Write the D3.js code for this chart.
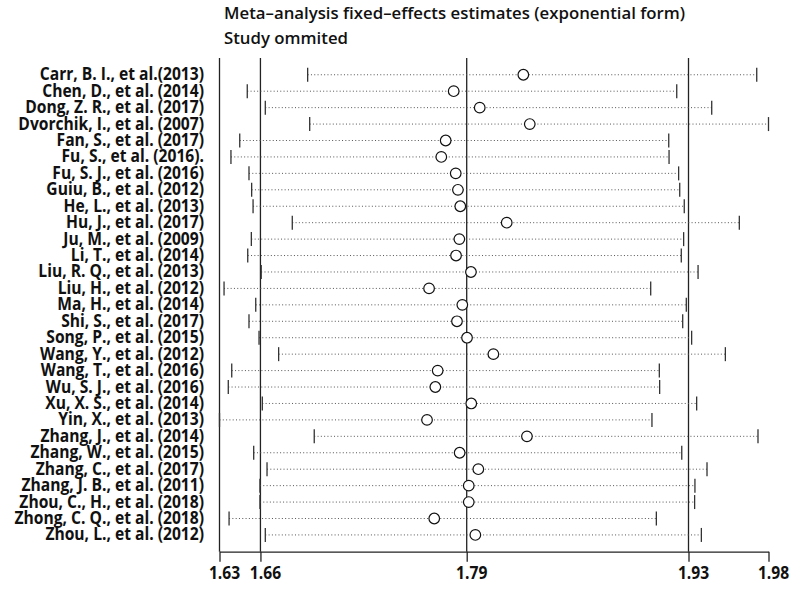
<!DOCTYPE html>
<html>
<head>
<meta charset="utf-8">
<script src="https://cdn.jsdelivr.net/npm/d3@7/dist/d3.min.js"></script>
<style>
  html, body { margin: 0; padding: 0; background: #fff; }
  svg { display: block; }
</style>
</head>
<body>
<div id="chart"></div>
<script>
/* ============================================================
   Influence plot — meta-analysis, one study omitted at a time
   ============================================================ */

const studies = [
  'Carr, B. I., et al.(2013)', 'Chen, D., et al. (2014)', 'Dong, Z. R., et al. (2017)',
  'Dvorchik, I., et al. (2007)', 'Fan, S., et al. (2017)', 'Fu, S., et al. (2016).',
  'Fu, S. J., et al. (2016)', 'Guiu, B., et al. (2012)', 'He, L., et al. (2013)',
  'Hu, J., et al. (2017)', 'Ju, M., et al. (2009)', 'Li, T., et al. (2014)',
  'Liu, R. Q., et al. (2013)', 'Liu, H., et al. (2012)', 'Ma, H., et al. (2014)',
  'Shi, S., et al. (2017)', 'Song, P., et al. (2015)', 'Wang, Y., et al. (2012)',
  'Wang, T., et al. (2016)', 'Wu, S. J., et al. (2016)', 'Xu, X. S., et al. (2014)',
  'Yin, X., et al. (2013)', 'Zhang, J., et al. (2014)', 'Zhang, W., et al. (2015)',
  'Zhang, C., et al. (2017)', 'Zhang, J. B., et al. (2011)', 'Zhou, C., H., et al. (2018)',
  'Zhong, C. Q., et al. (2018)', 'Zhou, L., et al. (2012)'
];

const estimate = [
  1.8237, 1.7793, 1.7959, 1.8278, 1.7742, 1.7714, 1.7806, 1.7820, 1.7835, 1.8131,
  1.7829, 1.7808, 1.7903, 1.7636, 1.7848, 1.7814, 1.7878, 1.8046, 1.7691, 1.7676,
  1.7905, 1.7623, 1.8260, 1.7831, 1.7950, 1.7889, 1.7889, 1.7669, 1.7931
];

const lower = [
  1.6862, 1.6477, 1.6592, 1.6875, 1.6429, 1.6373, 1.6488, 1.6505, 1.6514, 1.6764,
  1.6503, 1.6480, 1.6566, 1.6329, 1.6531, 1.6488, 1.6552, 1.6677, 1.6378, 1.6356,
  1.6573, 1.6300, 1.6904, 1.6518, 1.6603, 1.6558, 1.6558, 1.6361, 1.6592
];

const upper = [
  1.9725, 1.9215, 1.9438, 1.9800, 1.9164, 1.9166, 1.9227, 1.9234, 1.9263, 1.9614,
  1.9259, 1.9244, 1.9351, 1.9049, 1.9276, 1.9253, 1.9310, 1.9525, 1.9104, 1.9106,
  1.9342, 1.9057, 1.9733, 1.9247, 1.9408, 1.9331, 1.9329, 1.9085, 1.9372
];

// axis ticks: min lower, combined lower CI, combined estimate, combined upper CI, max upper
const tickVals = [1.63, 1.6561, 1.7876, 1.929, 1.98];
const refLines = [1.63, 1.6561, 1.7876, 1.929];

const titleLines = ['Meta\u2013analysis fixed\u2013effects estimates (exponential form)', 'Study ommited'];

const rows = studies.map((s, i) => ({ study: s, est: estimate[i], lo: lower[i], hi: upper[i] }));

const W = 800, H = 605;
const FONT = "'Open Sans', 'Noto Sans', sans-serif";
const SX = 0.845; // squeeze glyphs horizontally, the original face is narrow

const svg = d3.select('#chart').append('svg')
  .attr('width', W).attr('height', H)
  .attr('viewBox', `0 0 ${W} ${H}`);

const x = d3.scaleLinear().domain([1.63, 1.98]).range([219.5, 768.5]);
const plotTop = 58, plotBottom = 551.7;
const y = d3.scalePoint().domain(studies).range([plotTop, plotBottom]).padding(1.02);

// title
const tg = svg.append('g').attr('transform', 'translate(224,0)');
titleLines.forEach((t, i) => {
  tg.append('text')
    .attr('x', 0).attr('y', 19 + i * 24.5)
    .attr('fill', '#111')
    .style('font-family', FONT)
    .style('font-size', '16.8px')
    .style('font-weight', 600)
    .text(t);
});

// reference lines
svg.append('g').selectAll('line')
  .data(refLines)
  .join('line')
  .attr('x1', d => x(d)).attr('x2', d => x(d))
  .attr('y1', plotTop).attr('y2', plotBottom)
  .attr('stroke', '#222')
  .attr('stroke-width', 1.3);

// x axis
const axis = svg.append('g')
  .attr('transform', `translate(0,${plotBottom})`)
  .call(d3.axisBottom(x).tickValues(tickVals).tickFormat(d3.format('.2f')).tickSize(10).tickSizeOuter(0));
axis.select('.domain').attr('stroke', '#222').attr('stroke-width', 1.3);
axis.selectAll('.tick line').attr('stroke', '#222').attr('stroke-width', 1.3);
axis.selectAll('.tick text')
  .attr('y', 14).attr('dy', '0.71em')
  .attr('x', 4.5 / SX)
  .attr('transform', `scale(${SX},1)`)
  .attr('fill', '#111')
  .style('font-family', FONT)
  .style('font-size', '18.5px')
  .style('font-weight', 700);

// confidence intervals (dotted)
const g = svg.append('g');
g.selectAll('line.ci')
  .data(rows)
  .join('line')
  .attr('class', 'ci')
  .attr('x1', d => x(d.lo)).attr('x2', d => x(d.hi))
  .attr('y1', d => y(d.study)).attr('y2', d => y(d.study))
  .attr('stroke', '#555')
  .attr('stroke-width', 1)
  .attr('stroke-dasharray', '1,2.3');

// interval end caps
['lo', 'hi'].forEach(k => {
  g.selectAll(`line.cap-${k}`)
    .data(rows)
    .join('line')
    .attr('class', `cap-${k}`)
    .attr('x1', d => x(d[k])).attr('x2', d => x(d[k]))
    .attr('y1', d => y(d.study) - 7).attr('y2', d => y(d.study) + 7)
    .attr('stroke', '#333')
    .attr('stroke-width', 1.3);
});

// estimates
g.selectAll('circle')
  .data(rows)
  .join('circle')
  .attr('cx', d => x(d.est))
  .attr('cy', d => y(d.study))
  .attr('r', 5.3)
  .attr('fill', '#fff')
  .attr('stroke', '#111')
  .attr('stroke-width', 1.2);

// study labels
const lg = svg.append('g').attr('transform', `translate(204,0) scale(${SX},1)`);
lg.selectAll('text')
  .data(rows)
  .join('text')
  .attr('x', 0)
  .attr('y', d => y(d.study) + 5.5)
  .attr('text-anchor', 'end')
  .attr('fill', '#111')
  .style('font-family', FONT)
  .style('font-size', '18.5px')
  .style('font-weight', 700)
  .text(d => d.study);
</script>
</body>
</html>
